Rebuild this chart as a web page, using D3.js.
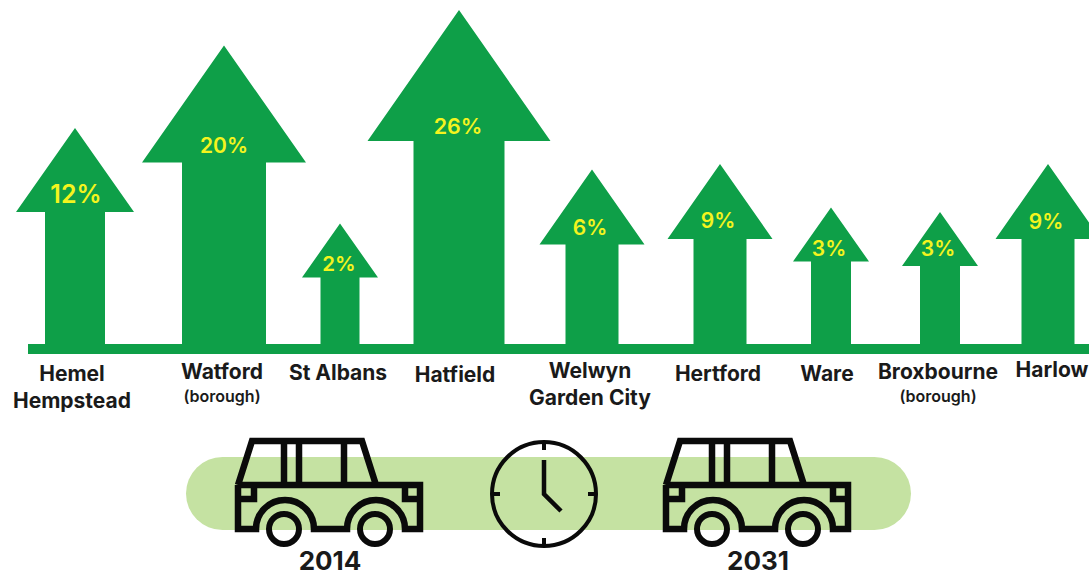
<!DOCTYPE html>
<html>
<head>
<meta charset="utf-8">
<script src="https://cdn.jsdelivr.net/npm/d3@7"></script>
<style>
    html, body { margin: 0; padding: 0; background: #fff; overflow: hidden; }
    text { font-family: Inter, "Liberation Sans", sans-serif; font-weight: 700; }
</style>
</head>
<body>
<svg id="chart"></svg>
<script>
// Chart values
const towns = ["Hemel Hempstead", "Watford", "St Albans", "Hatfield", "Welwyn Garden City", "Hertford", "Ware", "Broxbourne", "Harlow"];
const growth = [12, 20, 2, 26, 6, 9, 3, 3, 9];
const labelLines = [["Hemel", "Hempstead"], ["Watford"], ["St Albans"], ["Hatfield"], ["Welwyn", "Garden City"], ["Hertford"], ["Ware"], ["Broxbourne"], ["Harlow"]];
const subLabels = ["", "(borough)", "", "", "", "", "", "(borough)", ""];
const years = ["2014", "2031"];

const width = 1089;
const height = 576;
const baseY = 349;
const green = "#0e9f48";
const ink = "#0a0a0a";

const svg = d3.select("#chart").attr("width", width).attr("height", height);

// Arrows sit unevenly along the baseline in the source
const x = d3.scaleOrdinal().domain(towns).range([75, 224, 340, 459, 592, 720, 831, 940, 1048]);
const nudge = d3.scaleOrdinal().domain(towns).range([0, 0, 0, 0, 0, 0, -2.5, 2, 0]);
const labelX = d3.scaleOrdinal().domain(towns).range([72, 222, 338, 455, 590, 718, 827, 938, 1052]);
const labelY = d3.scaleOrdinal().domain(towns).range([381, 379, 380, 382, 378, 381, 381, 379, 377]);
const valueX = d3.scaleOrdinal().domain(towns).range([76, 224, 339, 458, 590, 718, 829, 938, 1046]);
const valueY = d3.scaleOrdinal().domain(towns).range([203, 153, 271, 134, 235, 228, 256, 256, 229]);

// The arrows are not drawn to a linear scale, so every size is a piecewise scale of the value
const steps = [2, 3, 6, 9, 12, 20, 26];
const arrowHeight = d3.scaleLinear().domain(steps).range([125.5, 139, 179.5, 185, 221, 303.5, 339]);
const headWidth = d3.scaleLinear().domain(steps).range([76, 76, 105, 105, 118, 164, 183]);
const headHeight = d3.scaleLinear().domain(steps).range([54, 54, 75, 75, 84, 117, 131]);
const shaftWidth = d3.scaleLinear().domain(steps).range([39, 40, 53, 53, 60, 84, 91]);
const valueSize = d3.scaleLinear().domain(steps).range([20.5, 21, 21, 21, 25, 21, 21.5]);

function arrowPoints(town, value) {
    let cx = x(town);
    let top = baseY - arrowHeight(value) + nudge(town);
    let neck = top + headHeight(value);
    let hw = headWidth(value) / 2;
    let sw = shaftWidth(value) / 2;
    return [[cx, top], [cx + hw, neck], [cx + sw, neck], [cx + sw, baseY], [cx - sw, baseY], [cx - sw, neck], [cx - hw, neck]];
}

const rows = towns.map((town, i) => ({ town: town, value: growth[i], lines: labelLines[i], sub: subLabels[i] }));

// Baseline
svg.append("rect")
    .attr("x", 28).attr("y", 344)
    .attr("width", width - 28).attr("height", 10)
    .attr("fill", green);

// Arrows
svg.append("g")
    .selectAll("polygon")
    .data(rows)
    .enter()
    .append("polygon")
    .attr("points", d => arrowPoints(d.town, d.value).join(" "))
    .attr("fill", green);

// Percent labels
svg.append("g")
    .selectAll("text")
    .data(rows)
    .enter()
    .append("text")
    .attr("x", d => valueX(d.town))
    .attr("y", d => valueY(d.town))
    .attr("text-anchor", "middle")
    .attr("font-size", d => valueSize(d.value))
    .style("font-weight", 600)
    .attr("fill", "#f4f41e")
    .text(d => d.value + "%");

// Town labels
const labels = svg.append("g")
    .selectAll("g")
    .data(rows)
    .enter()
    .append("g")
    .attr("transform", d => `translate(${labelX(d.town)},${labelY(d.town)})`);

labels.selectAll("text.name")
    .data(d => d.lines)
    .enter()
    .append("text")
    .attr("class", "name")
    .attr("y", (d, i) => i * 27)
    .attr("text-anchor", "middle")
    .attr("font-size", 21)
    .attr("fill", "#1a1a1a")
    .text(d => d);

labels.filter(d => d.sub)
    .append("text")
    .attr("y", 23)
    .attr("text-anchor", "middle")
    .style("font-weight", 600)
    .attr("font-size", 16)
    .attr("fill", "#1a1a1a")
    .text(d => d.sub);

// Band behind the cars
svg.append("rect")
    .attr("x", 186).attr("y", 457)
    .attr("width", 725).attr("height", 73)
    .attr("rx", 36.5)
    .attr("fill", "#c5e2a2");

// Car icon, drawn once per year
const carX = d3.scaleOrdinal().domain(years).range([0, 428]);
const yearX = d3.scaleOrdinal().domain(years).range([330, 758]);

const carPath = d3.path();
carPath.moveTo(238, 485); carPath.lineTo(252, 441); carPath.lineTo(362, 441); carPath.lineTo(376, 485);
carPath.moveTo(238, 485); carPath.lineTo(420, 485); carPath.lineTo(420, 529); carPath.lineTo(405, 529);
carPath.arc(376, 529, 29, 0, Math.PI, true);
carPath.lineTo(314, 529);
carPath.arc(285, 529, 29, 0, Math.PI, true);
carPath.lineTo(238, 529); carPath.lineTo(238, 485);
[284, 299, 344].forEach(px => { carPath.moveTo(px, 441); carPath.lineTo(px, 485); });
carPath.moveTo(238, 499); carPath.lineTo(254, 499); carPath.lineTo(254, 485);
carPath.moveTo(420, 499); carPath.lineTo(405, 499); carPath.lineTo(405, 485);

const cars = svg.append("g")
    .selectAll("g")
    .data(years)
    .enter()
    .append("g")
    .attr("transform", d => `translate(${carX(d)},0)`);

cars.append("path")
    .attr("d", carPath.toString())
    .attr("fill", "none")
    .attr("stroke", ink)
    .attr("stroke-width", 6.5)
    .attr("stroke-linejoin", "miter");

cars.selectAll("circle")
    .data([284, 375])
    .enter()
    .append("circle")
    .attr("cx", d => d)
    .attr("cy", 529)
    .attr("r", 15)
    .attr("fill", "none")
    .attr("stroke", ink)
    .attr("stroke-width", 6);

svg.append("g")
    .selectAll("text")
    .data(years)
    .enter()
    .append("text")
    .attr("x", d => yearX(d))
    .attr("y", 569.5)
    .attr("text-anchor", "middle")
    .attr("font-size", 26)
    .attr("fill", "#1a1a1a")
    .text(d => d);

// Clock
const clock = svg.append("g").attr("transform", "translate(544,494)");
clock.append("circle")
    .attr("r", 52)
    .attr("fill", "none")
    .attr("stroke", ink)
    .attr("stroke-width", 4);
[0, 90, 180, 270].forEach(angle => {
    clock.append("line")
        .attr("y1", -52).attr("y2", -44)
        .attr("transform", `rotate(${angle})`)
        .attr("stroke", ink)
        .attr("stroke-width", 4);
});
clock.append("path")
    .attr("d", "M0,-34L0,0L17,17")
    .attr("fill", "none")
    .attr("stroke", ink)
    .attr("stroke-width", 4.5);
</script>
</body>
</html>
